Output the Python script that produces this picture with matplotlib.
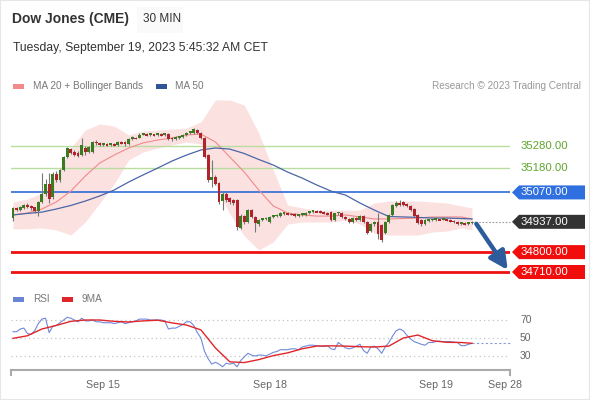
import matplotlib
matplotlib.use("Agg")
import matplotlib.pyplot as plt
import matplotlib.transforms as mtransforms
from matplotlib.patches import Polygon, Rectangle
import numpy as np

plt.rcParams['font.family'] = ['Liberation Sans', 'DejaVu Sans']

# ---------------- data ----------------
opens = [34954, 35000, 34992, 35000, 35012, 35008, 35002, 34985,
         35025, 35065, 35110, 35050, 35155, 35125, 35170, 35230,
         35265, 35255, 35250, 35240, 35272, 35255, 35255, 35300,
         35292, 35285, 35288, 35286, 35289, 35285, 35297, 35298,
         35287, 35312, 35318, 35318, 35332, 35334, 35331, 35333,
         35330, 35333, 35331, 35335, 35318, 35312, 35315, 35320,
         35330, 35340, 35340, 35352, 35340, 35315, 35240, 35125,
         35140, 35112, 35030, 35065, 35045, 35035, 35035, 34910,
         34965, 34935, 34990, 34960, 34925, 34945, 34948, 34935,
         34958, 34962, 34962, 34972, 34978, 34974, 34972, 34964,
         34968, 34970, 34978, 34982, 34987, 34985, 34980, 34976,
         34980, 34945, 34975, 34978, 34960, 34950, 34938, 34955,
         34945, 34962, 34938, 34895, 34925, 34938, 34922, 34888,
         34936, 34968, 35008, 35022, 35025, 35018, 35010, 34995,
         34970, 34945, 34928, 34942, 34944, 34946, 34948, 34947,
         34948, 34946, 34942, 34935, 34928, 34930, 34928, 34930]
closes = [35000, 34992, 35003, 35012, 35005, 34998, 34985, 35025,
          35065, 35110, 35040, 35155, 35125, 35170, 35230, 35270,
          35250, 35240, 35235, 35285, 35255, 35275, 35298, 35292,
          35285, 35288, 35286, 35289, 35284, 35297, 35294, 35287,
          35312, 35318, 35316, 35332, 35334, 35331, 35333, 35330,
          35333, 35331, 35334, 35310, 35310, 35318, 35322, 35332,
          35340, 35343, 35355, 35340, 35318, 35232, 35125, 35140,
          35110, 35025, 35065, 35035, 35025, 35020, 34915, 34965,
          34935, 34990, 34960, 34930, 34945, 34948, 34955, 34960,
          34963, 34966, 34975, 34978, 34974, 34972, 34963, 34968,
          34970, 34978, 34982, 34987, 34985, 34980, 34976, 34972,
          34945, 34975, 34978, 34960, 34948, 34938, 34955, 34945,
          34962, 34938, 34888, 34925, 34935, 34880, 34855, 34936,
          34968, 35012, 35022, 35012, 35015, 35008, 34990, 34965,
          34930, 34925, 34945, 34944, 34946, 34948, 34947, 34948,
          34946, 34942, 34935, 34928, 34930, 34928, 34930, 34937]
highs = [35005, 35006, 35008, 35018, 35020, 35012, 35006, 35030,
         35158, 35130, 35160, 35162, 35165, 35178, 35236, 35276,
         35272, 35262, 35256, 35316, 35278, 35280, 35304, 35306,
         35296, 35293, 35292, 35294, 35293, 35302, 35301, 35302,
         35317, 35323, 35322, 35337, 35338, 35338, 35337, 35336,
         35337, 35337, 35338, 35339, 35322, 35323, 35327, 35336,
         35345, 35348, 35360, 35357, 35344, 35320, 35244, 35215,
         35148, 35118, 35072, 35070, 35050, 35040, 35040, 34972,
         34970, 34996, 34995, 34965, 34950, 34953, 34960, 34965,
         34968, 34971, 34980, 34983, 34982, 34978, 34976, 34972,
         34975, 34982, 34987, 34991, 34991, 34989, 34984, 34980,
         34984, 34979, 34983, 34982, 34964, 34954, 34960, 34959,
         34966, 34966, 34942, 34930, 34940, 34975, 34926, 34940,
         34972, 35016, 35030, 35035, 35030, 35022, 35014, 35000,
         34974, 34950, 34950, 34948, 34950, 34952, 34952, 34952,
         34951, 34950, 34946, 34939, 34934, 34934, 34934, 34941]
lows = [34940, 34985, 34986, 34996, 35000, 34992, 34978, 34965,
        35020, 35055, 35020, 35040, 35115, 35118, 35165, 35225,
        35244, 35234, 35228, 35236, 35240, 35250, 35250, 35286,
        35280, 35281, 35281, 35282, 35279, 35281, 35289, 35282,
        35283, 35308, 35311, 35314, 35328, 35327, 35327, 35326,
        35326, 35327, 35327, 35305, 35304, 35307, 35311, 35316,
        35326, 35336, 35336, 35335, 35312, 35225, 35118, 35095,
        35104, 35018, 34990, 35028, 35018, 35012, 34900, 34904,
        34928, 34930, 34954, 34890, 34920, 34940, 34943, 34930,
        34953, 34957, 34958, 34968, 34969, 34967, 34958, 34959,
        34963, 34965, 34973, 34977, 34980, 34975, 34971, 34967,
        34940, 34940, 34970, 34955, 34943, 34932, 34933, 34940,
        34940, 34933, 34880, 34890, 34920, 34860, 34847, 34880,
        34930, 34962, 35003, 35007, 35010, 35003, 34985, 34960,
        34925, 34918, 34922, 34938, 34940, 34942, 34943, 34943,
        34942, 34938, 34931, 34924, 34924, 34924, 34924, 34926]

# moving averages / bands read every 4th bar
ma_idx = list(range(0, 128, 4)) + [127]
ma20 = [34968, 34977, 34995, 35027, 35076, 35144, 35203, 35239, 35271, 35294,
        35307, 35316, 35330, 35334, 35298, 35230, 35162, 35081, 35009, 34977,
        34968, 34963, 34963, 34968, 34959, 34950, 34950, 34952, 34954, 34959,
        34959, 34959, 34950]
bb_upper = [35027, 35040, 35067, 35144, 35271, 35352, 35380, 35370, 35330, 35348,
            35352, 35357, 35361, 35389, 35488, 35488, 35465, 35339, 35171, 35013,
            35000, 34990, 34990, 34990, 34990, 35022, 35031, 35031, 35031, 35027,
            35022, 35009, 35000]
bb_lower = [34905, 34905, 34909, 34900, 34877, 34936, 35022, 35108, 35217, 35253,
            35271, 35285, 35298, 35289, 35104, 34972, 34873, 34810, 34846, 34927,
            34936, 34936, 34936, 34945, 34927, 34886, 34877, 34877, 34877, 34891,
            34895, 34909, 34900]
ma50 = [34968, 34975, 34981, 34995, 35011, 35031, 35054, 35081, 35117, 35149,
        35180, 35212, 35239, 35262, 35271, 35266, 35246, 35219, 35194, 35162,
        35135, 35104, 35076, 35058, 35022, 34990, 34961, 34959, 34957, 34954,
        34954, 34952, 34950]

rsi = [57, 57, 60, 61, 55, 54, 58, 66, 71, 72,
       56, 63, 64, 67, 70, 73, 72, 70, 68, 72,
       69, 69, 70, 68, 68, 67, 67, 67, 66, 67,
       68, 66, 67, 68, 69, 71, 71, 71, 70, 70,
       70, 70, 69, 60, 61, 61, 63, 65, 68, 68,
       64, 56, 50, 35, 27, 21, 23, 21, 18, 22,
       21, 22, 18, 25, 29, 33, 31, 30, 31, 31,
       30, 32, 34, 35, 37, 37, 37, 38, 38, 37,
       40, 41, 42, 42, 41.5, 41, 40.5, 41.5, 38, 37,
       45, 42, 39, 38, 39, 41, 43, 36, 33, 40,
       41, 38, 33, 40, 45, 52, 58, 60, 58, 53,
       49, 46, 44.5, 43, 42, 45, 45, 46, 46.5, 46,
       46, 46, 45.5, 45, 41.5, 41.5, 43, 44]
rsi_ma9 = [49.6, 52.5, 60, 64, 68.5, 70, 70, 68.5, 67.8, 69,
           69.8, 66.8, 64.4, 59, 39, 23.5, 22.7, 26, 30.4, 33.5,
           38, 41, 41.3, 41, 40.3, 40, 41, 50, 53.3, 47,
           45.2, 45, 44.1]

resistances = [35280, 35180]
pivot = 35070
last_price = 34937
supports = [34800, 34710]
rsi_levels = [70, 50, 30]
tick_pos = [25, 71, 117, 136]
tick_labels = ["Sep 15", "Sep 18", "Sep 19", "Sep 28"]

# ---------------- figure ----------------
W, H = 590, 400
fig = plt.figure(figsize=(W / 100, H / 100), dpi=100)
fig.patch.set_facecolor('white')

def fx(px):
    return px / W

def fy(py):
    return 1 - py / H

X0, X1 = 11, 510
ax = fig.add_axes([fx(X0), fy(285), fx(X1) - fx(X0), (285 - 95) / H])
xl = (-0.553, 137.52)
ax.set_xlim(*xl)
ax.set_ylim(34651.2, 35510.7)
ax.axis('off')
pu = (35510.7 - 34651.2) / 190.0  # price units per pixel

n = len(closes)
x = np.arange(n)
o = np.array(opens, float)
c = np.array(closes, float)
up = c >= o
col = np.where(up, '#3a7a20', '#b0232a')

# bands and MAs
ax.fill_between(ma_idx, bb_lower, bb_upper, color='#fce1e1', lw=0, zorder=1)
ax.plot(ma_idx, ma20, color='#f08a8a', lw=0.8, zorder=3)
ax.plot(ma_idx, ma50, color='#4a66a6', lw=0.9, zorder=3)

# level lines
for lv in resistances:
    ax.axhline(lv, color='#b9dc9f', lw=1.0, zorder=2)
ax.axhline(pivot, color='#2f6bd8', lw=1.2, zorder=2)
for lv in supports:
    ax.axhline(lv, color='#ee1111', lw=2.0, zorder=2)

# candles
ax.vlines(x, lows, highs, color='#777777', lw=0.8, zorder=4)
body_h = np.where(np.abs(c - o) < 8, 8 * np.where(up, 1, -1), c - o)
ax.bar(x, body_h, bottom=o, width=0.8, color=col, lw=0, zorder=5)

# current price dotted extension
ax.plot([n - 1, xl[1]], [last_price, last_price], color='#9a9a9a', lw=0.8,
        ls=(0, (1.5, 1.5)), zorder=3, clip_on=False)

# forecast arrow
ax.annotate('', xy=(136.9, supports[1] + 2 * pu), xytext=(n - 1 + 1.2, last_price - 2 * pu),
            arrowprops=dict(arrowstyle='-|>,head_width=0.45,head_length=0.9',
                            color='#2d5c9c', lw=3.2, shrinkA=0, shrinkB=0,
                            mutation_scale=12),
            annotation_clip=False, zorder=6)

# right side labels
trans = mtransforms.blended_transform_factory(fig.transFigure, ax.transData)
hh = 7 * pu

def tag(price, fc, tc):
    if fc is not None:
        poly = Polygon([(fx(512), price), (fx(519), price + hh), (fx(585), price + hh),
                        (fx(585), price - hh), (fx(519), price - hh)],
                       closed=True, transform=trans, fc=fc, ec='none', clip_on=False)
        ax.add_patch(poly)
    ax.text(fx(520.5), price, f"{price:.2f}", transform=trans, ha='left', va='center',
            color=tc, fontsize=8.2, clip_on=False)

for lv in resistances:
    tag(lv, None, '#5fa52e')
tag(pivot, '#2f6fe0', 'white')
tag(last_price, '#333333', 'white')
for lv in supports:
    tag(lv, '#f20d0d', 'white')

# ---------------- RSI panel ----------------
ax2 = fig.add_axes([fx(X0), fy(370), fx(X1) - fx(X0), 65 / H])
ax2.set_xlim(*xl)
r_lo, r_hi = 14.44, 86.67
ax2.set_ylim(r_lo, r_hi)
for s in ['top', 'right', 'left']:
    ax2.spines[s].set_visible(False)
ax2.spines['bottom'].set_color('#aaaaaa')
ax2.spines['bottom'].set_linewidth(1.5)
ax2.set_yticks([])
for lv in rsi_levels:
    ax2.axhline(lv, color='#c4c4c4', lw=0.9, ls=(0, (1, 2.5)), zorder=1)
    ax2.text(fx(520), lv, str(lv),
             transform=mtransforms.blended_transform_factory(fig.transFigure, ax2.transData),
             ha='left', va='center', fontsize=7.5, color='#666666')
ax2.plot(x, rsi, color='#7189d8', lw=0.8, zorder=3)
ax2.plot(ma_idx, rsi_ma9, color='#e0262a', lw=1.0, zorder=4)
ax2.plot([n - 1, xl[1]], [rsi[-1], rsi[-1]], color='#8c9be0', lw=0.8,
         ls=(0, (2, 2)), zorder=2, clip_on=False)
ru = (r_hi - r_lo) / 65.0
for xe in xl:
    ax2.plot([xe, xe], [r_lo, r_lo - 5 * ru], color='#aaaaaa', lw=1.5, clip_on=False)
ax2.set_xticks(tick_pos)
ax2.set_xticklabels(tick_labels)
ax2.tick_params(axis='x', length=0, pad=7, labelsize=7.7, labelcolor='#666666')

# ---------------- header & legends ----------------
fig.text(fx(12), fy(19), "Dow Jones (CME)", fontsize=10, fontweight='bold',
         color='#333333', va='center', ha='left')
fig.patches.append(Rectangle((fx(137), fy(33)), fx(46), 26 / H, transform=fig.transFigure,
                             fc='#fafafa', ec='none', zorder=0))
fig.text(fx(143), fy(19), "30 MIN", fontsize=8.5, color='#333333', va='center', ha='left')
fig.text(fx(13), fy(48), "Tuesday, September 19, 2023 5:45:32 AM CET", fontsize=8.7,
         color='#333333', va='center', ha='left')

def legend_patch(px0, py, w, color):
    fig.patches.append(Rectangle((fx(px0), fy(py + 2.5)), fx(w), 5 / H,
                                 transform=fig.transFigure, fc=color, ec='none'))

legend_patch(13, 86, 11, '#f28a8a')
fig.text(fx(33), fy(86), "MA 20 + Bollinger Bands", fontsize=7.2, color='#777777',
         va='center', ha='left')
legend_patch(156, 86, 11, '#2f5597')
fig.text(fx(175), fy(86), "MA 50", fontsize=7.2, color='#777777', va='center', ha='left')
fig.text(fx(581), fy(86), "Research \u00a9 2023 Trading Central", fontsize=7.2,
         color='#999999', va='center', ha='right')

legend_patch(13, 299, 11, '#6a85d8')
fig.text(fx(33), fy(299), "RSI", fontsize=7.2, color='#777777', va='center', ha='left')
legend_patch(62, 299, 11, '#e0262a')
fig.text(fx(82), fy(299), "9MA", fontsize=7.2, color='#777777', va='center', ha='left')

# outer border
fig.patches.append(Rectangle((0, 0), 1, 1, transform=fig.transFigure, fill=False,
                             ec='#e6e6e6', lw=1.5))

fig.savefig("out.png", dpi=100, facecolor='white')
